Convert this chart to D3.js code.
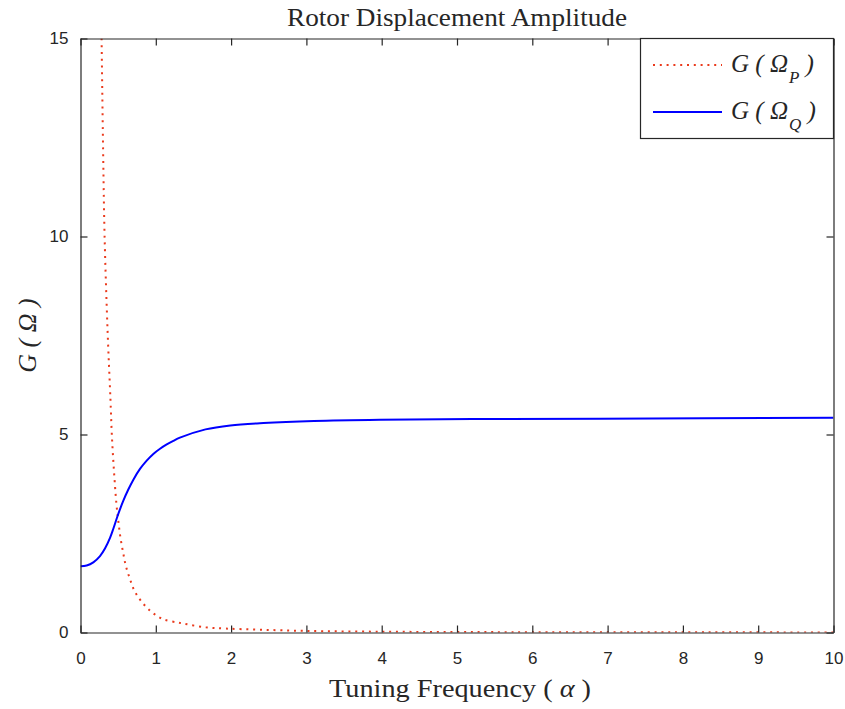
<!DOCTYPE html>
<html>
<head>
<meta charset="utf-8">
<script src="https://cdn.jsdelivr.net/npm/d3@7"></script>
<style>
  body { margin: 0; background: #fff; }
  text { fill: #262626; }
</style>
</head>
<body>
<div id="chart"></div>
<script>
// values
var alpha_p = [0.28, 0.30, 0.32, 0.36, 0.398, 0.416, 0.443, 0.478, 0.505, 0.531, 0.567, 0.60, 0.655, 0.72, 0.823, 0.956, 1.106, 1.30, 1.38, 1.66, 1.93, 2.39, 3.0, 3.98, 5.0, 6.0, 8.0, 10.0];
var g_p     = [15.0, 12.2, 10.0, 7.6, 5.88, 5.0, 4.12, 3.23, 2.77, 2.39, 2.01, 1.70, 1.36, 1.04, 0.75, 0.50, 0.33, 0.25, 0.22, 0.13, 0.10, 0.07, 0.04, 0.02, 0.012, 0.008, 0.004, 0.003];

var alpha_q = [0, 0.082, 0.17, 0.259, 0.325, 0.392, 0.436, 0.49, 0.524, 0.569, 0.635, 0.702, 0.79, 0.879, 0.967, 1.056, 1.145, 1.233, 1.32, 1.66, 1.99, 2.43, 3.1, 3.98, 5.31, 6.9, 10.0];
var g_q     = [1.67, 1.69, 1.77, 1.93, 2.12, 2.39, 2.62, 2.93, 3.11, 3.33, 3.61, 3.86, 4.13, 4.34, 4.51, 4.64, 4.75, 4.84, 4.92, 5.13, 5.23, 5.29, 5.34, 5.37, 5.39, 5.40, 5.42];

var x_ticks = [0, 1, 2, 3, 4, 5, 6, 7, 8, 9, 10];
var y_ticks = [0, 5, 10, 15];

var width = 845,
    height = 709;
var margin = {left: 80.5, right: 11.5, top: 38.5, bottom: 76.5};

var svg = d3.select('#chart')
  .append('svg')
    .attr('width', width)
    .attr('height', height);

var x = d3.scaleLinear().domain([0, 10]).range([margin.left, width - margin.right]);
var y = d3.scaleLinear().domain([0, 15]).range([height - margin.bottom, margin.top]);

svg.append('clipPath').attr('id', 'clip')
  .append('rect')
    .attr('x', x(0)).attr('y', y(15))
    .attr('width', x(10) - x(0)).attr('height', y(0) - y(15));

var line = d3.line()
  .x(function(d) { return x(d[0]); })
  .y(function(d) { return y(d[1]); })
  .curve(d3.curveCatmullRom.alpha(0.5));

var dataP = d3.zip(alpha_p, g_p);
var dataQ = d3.zip(alpha_q, g_q);

var plot = svg.append('g').attr('clip-path', 'url(#clip)');

plot.append('path')
  .datum(dataP)
  .attr('d', line)
  .attr('fill', 'none')
  .attr('stroke', '#ea3a1c')
  .attr('stroke-width', 2)
  .attr('stroke-dasharray', '2,4.8');

plot.append('path')
  .datum(dataQ)
  .attr('d', line)
  .attr('fill', 'none')
  .attr('stroke', '#0000ff')
  .attr('stroke-width', 2);

// axes, ticks inside, MATLAB-like box
var axisColor = '#262626';
var tickLen = 7;

var xb = svg.append('g')
  .attr('transform', 'translate(0,' + y(0) + ')')
  .call(d3.axisBottom(x).tickValues(x_ticks).tickSizeInner(-tickLen).tickSizeOuter(0).tickPadding(19));
var yl = svg.append('g')
  .attr('transform', 'translate(' + x(0) + ',0)')
  .call(d3.axisLeft(y).tickValues(y_ticks).tickSizeInner(-tickLen).tickSizeOuter(0).tickPadding(12));
var xt = svg.append('g')
  .attr('transform', 'translate(0,' + y(15) + ')')
  .call(d3.axisTop(x).tickValues(x_ticks).tickSizeInner(-tickLen).tickSizeOuter(0).tickFormat(''));
var yr = svg.append('g')
  .attr('transform', 'translate(' + x(10) + ',0)')
  .call(d3.axisRight(y).tickValues(y_ticks).tickSizeInner(-tickLen).tickSizeOuter(0).tickFormat(''));

[xb, yl, xt, yr].forEach(function(g) {
  g.selectAll('path').attr('stroke', axisColor).attr('stroke-width', 1.2);
  g.selectAll('line').attr('stroke', axisColor).attr('stroke-width', 1.2);
  g.selectAll('text')
    .style('font-family', '"Liberation Sans", Arial, sans-serif')
    .style('font-size', '17px')
    .attr('fill', axisColor);
});

var serif = '"Liberation Serif", "Times New Roman", serif';

// title and labels
svg.append('text')
  .attr('x', (x(0) + x(10)) / 2)
  .attr('y', 26)
  .attr('text-anchor', 'middle')
  .attr('textLength', 340)
  .attr('lengthAdjust', 'spacingAndGlyphs')
  .style('font-family', serif)
  .style('font-size', '25px')
  .text('Rotor Displacement Amplitude');

var xlab = svg.append('text')
  .attr('x', 460)
  .attr('y', 697)
  .attr('text-anchor', 'middle')
  .attr('textLength', 262)
  .attr('lengthAdjust', 'spacingAndGlyphs')
  .style('font-family', serif)
  .style('font-size', '25px');
xlab.append('tspan').text('Tuning Frequency ( ');
xlab.append('tspan').style('font-style', 'italic').text('α');
xlab.append('tspan').text(' )');

svg.append('text')
  .attr('transform', 'translate(36,' + (y(0) + y(15)) / 2 + ') rotate(-90)')
  .attr('text-anchor', 'middle')
  .style('font-family', serif)
  .style('font-size', '26px')
  .style('font-style', 'italic')
  .text('G ( Ω )');

// legend
var lg = svg.append('g');
lg.append('rect')
  .attr('x', 640.5).attr('y', 38.5)
  .attr('width', 193).attr('height', 100)
  .attr('fill', '#fff')
  .attr('stroke', axisColor)
  .attr('stroke-width', 1.2);

var legendItems = [
  {sub: 'P', color: '#ea3a1c', dash: '2,4.8', y: 65},
  {sub: 'Q', color: '#0000ff', dash: null, y: 112}
];

legendItems.forEach(function(d) {
  lg.append('line')
    .attr('x1', 653).attr('x2', 722)
    .attr('y1', d.y).attr('y2', d.y)
    .attr('stroke', d.color)
    .attr('stroke-width', 2)
    .attr('stroke-dasharray', d.dash);
  var t = lg.append('text')
    .attr('x', 731)
    .attr('y', d.y + 7)
    .style('font-family', serif)
    .style('font-size', '25px')
    .style('font-style', 'italic');
  t.append('tspan').text('G ( Ω');
  t.append('tspan').attr('dy', 11).attr('dx', 1).style('font-size', '17px').text(d.sub);
  t.append('tspan').attr('dy', -11).text('  )');
});
</script>
</body>
</html>
